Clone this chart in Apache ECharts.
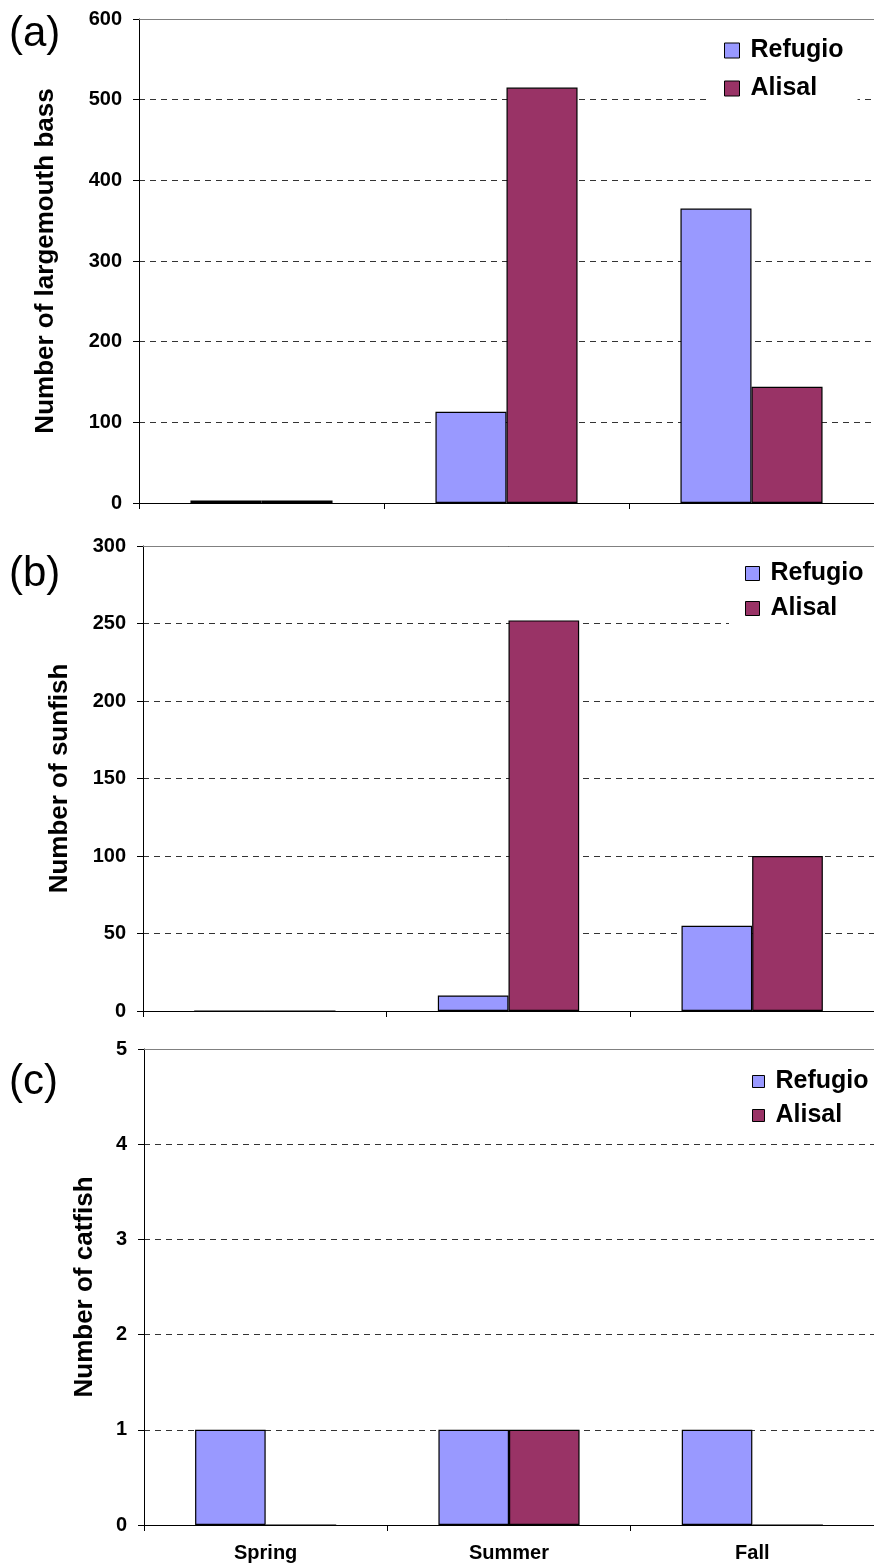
<!DOCTYPE html>
<html>
<head>
<meta charset="utf-8">
<script src="https://cdn.jsdelivr.net/npm/echarts@6/dist/echarts.min.js"></script>
<style>
html,body{margin:0;padding:0;background:#fff;}
#chart{width:874px;height:1565px;}
</style>
</head>
<body>
<div id="chart"></div>
<script>
// ---- data ----
const seasons = ['Spring', 'Summer', 'Fall'];
const seriesNames = ['Refugio', 'Alisal'];
const bassRefugio = [3, 113, 365];
const bassAlisal = [3, 515, 144];
const sunfishRefugio = [0, 10, 55];
const sunfishAlisal = [0, 252, 100];
const catfishRefugio = [1, 1, 1];
const catfishAlisal = [0, 1, 0];
const panelLabels = ['(a)', '(b)', '(c)'];
const yTitles = ['Number of largemouth bass', 'Number of sunfish', 'Number of catfish'];
const yMax = [600, 300, 5];
const yInterval = [100, 50, 1];

// ---- styling ----
const FONT = '"Liberation Sans", Arial, sans-serif';
const colRef = '#9999FF';
const colAli = '#993366';
const grids = [
  {left: 139, top: 19, width: 742, height: 484},
  {left: 143, top: 546, width: 744, height: 465},
  {left: 144, top: 1049, width: 744, height: 476}
];
const nameGaps = [80, 70, 46];
const legendPos = [
  {left: 708, top: 30, itemGap: 13, size: 15},
  {left: 729, top: 553, itemGap: 10, size: 14},
  {left: 736, top: 1061, itemGap: 9, size: 12}
];

const xAxes = [];
const yAxes = [];
grids.forEach((g, i) => {
  xAxes.push({
    type: 'category', gridIndex: i, data: seasons,
    axisLine: {show: true, onZero: false, lineStyle: {color: '#000', width: 1}},
    axisTick: {show: true, length: 6, lineStyle: {color: '#000'}},
    axisLabel: {show: i === 2, color: '#000', fontFamily: FONT, fontWeight: 'bold', fontSize: 20, margin: 18},
    splitLine: {show: false}
  });
  xAxes.push({
    type: 'category', gridIndex: i, position: 'top', data: seasons,
    axisLine: {show: true, onZero: false, lineStyle: {color: '#808080', width: 1}},
    axisTick: {show: false}, axisLabel: {show: false}, splitLine: {show: false}
  });
  yAxes.push({
    type: 'value', gridIndex: i, min: 0, max: yMax[i], interval: yInterval[i],
    name: yTitles[i], nameLocation: 'middle', nameGap: nameGaps[i],
    nameTextStyle: {color: '#000', fontFamily: FONT, fontWeight: 'bold', fontSize: 26},
    axisLine: {show: true, lineStyle: {color: '#000', width: 1}},
    axisTick: {show: true, length: 6, lineStyle: {color: '#000'}},
    axisLabel: {color: '#000', fontFamily: FONT, fontWeight: 'bold', fontSize: 20, margin: 17},
    splitLine: {show: true, lineStyle: {color: '#333', width: 1, type: [6, 5]}}
  });
});

const dataSets = [[bassRefugio, bassAlisal], [sunfishRefugio, sunfishAlisal], [catfishRefugio, catfishAlisal]];
const series = [];
dataSets.forEach((pair, i) => {
  pair.forEach((vals, j) => {
    series.push({
      type: 'bar', name: seriesNames[j], xAxisIndex: i * 2, yAxisIndex: i,
      data: vals, barWidth: '29%', barGap: '0%',
      itemStyle: {color: j === 0 ? colRef : colAli, borderColor: '#000', borderWidth: 1.2},
      emphasis: {disabled: true}
    });
  });
});

const legends = legendPos.map(p => ({
  data: seriesNames, orient: 'vertical', left: p.left, top: p.top,
  itemGap: p.itemGap, itemWidth: p.size, itemHeight: p.size, icon: 'rect',
  backgroundColor: '#fff', padding: [8, 14, 8, 16],
  itemStyle: {borderColor: '#000', borderWidth: 1},
  textStyle: {color: '#000', fontFamily: FONT, fontWeight: 'bold', fontSize: 25, lineHeight: 24, padding: [0, 0, 0, 6]},
  selectedMode: false
}));

const labelTops = [13, 553, 1061];
const graphics = panelLabels.map((t, i) => ({
  type: 'text', left: 9, top: labelTops[i],
  style: {text: t, font: '42px ' + FONT, fill: '#000'}
}));

const chart = echarts.init(document.getElementById('chart'), null, {renderer: 'canvas'});
chart.setOption({
  animation: false,
  backgroundColor: '#fff',
  grid: grids,
  xAxis: xAxes,
  yAxis: yAxes,
  series: series,
  legend: legends,
  graphic: graphics
});
</script>
</body>
</html>
